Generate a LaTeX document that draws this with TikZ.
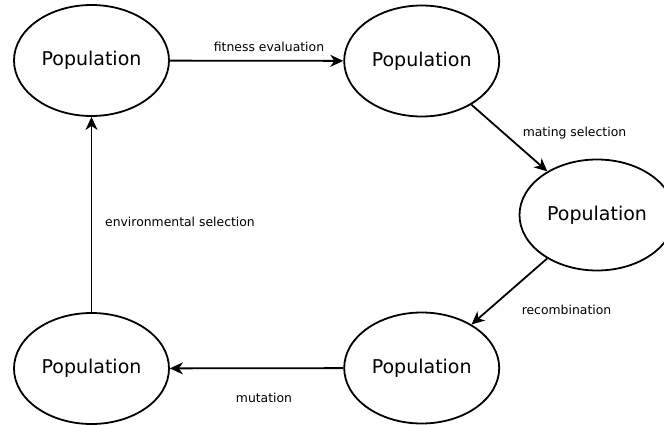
\documentclass[tikz,border=0pt]{standalone}
\usepackage{fontspec}
\setmainfont{DejaVu Sans}
\usetikzlibrary{shapes.geometric,arrows.meta}
\begin{document}
\begin{tikzpicture}[x=1pt,y=-1pt,
  pop/.style={draw,ellipse,line width=1.8pt,minimum width=155pt,minimum height=111pt,inner sep=0pt,font=\fontsize{19}{22}\selectfont},
  conn/.style={line width=1.8pt,-{Stealth[length=13pt,width=12pt,inset=4pt]}},
  lbl/.style={font=\fontsize{12.4}{14}\selectfont,inner sep=0pt}]
\useasboundingbox (0,0) rectangle (664,425);
\node[pop] (tl) at (91.5,60.5) {Population};
\node[pop] (tm) at (421.7,61) {Population};
\node[pop] (r) at (597,215) {Population};
\node[pop] (bm) at (421.7,368) {Population};
\node[pop] (bl) at (91.5,368.5) {Population};
\draw[conn] (tl) -- (tm);
\draw[conn] (tm) -- (r);
\draw[conn] (r) -- (bm);
\draw[conn] (bm) -- (bl);
\draw[conn] (bl) -- (tl);
\node[lbl] (l1) at (269,47) {fitness evaluation};
\node[lbl] (l2) at (574.5,133) {mating selection};
\node[lbl] (l3) at (566.5,310) {recombination};
\node[lbl] (l4) at (264,398) {mutation};
\node[lbl] (l5) at (180,222) {environmental selection};
\end{tikzpicture}
\end{document}
